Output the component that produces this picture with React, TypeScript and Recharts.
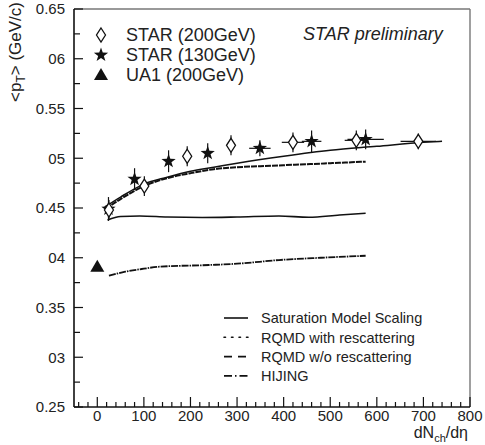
import {
  ComposedChart,
  Line,
  Scatter,
  XAxis,
  YAxis,
  ErrorBar,
  ReferenceLine,
} from "recharts";

const FONT = '"Liberation Sans", Arial, Helvetica, sans-serif';
const INK = "#111";

// STAR 200 GeV (open diamonds)
const star200X = [25, 101, 193, 287, 420, 556, 689];
const star200Y = [0.448, 0.472, 0.502, 0.513, 0.516, 0.518, 0.517];
const star200Ex = [0, 0, 0, 0, 24, 25, 38];
const star200Ey = [0.01, 0.01, 0.01, 0.01, 0.01, 0.01, 0.008];

// STAR 130 GeV (filled stars)
const star130X = [24, 80, 153, 237, 349, 460, 576];
const star130Y = [0.449, 0.479, 0.497, 0.505, 0.51, 0.517, 0.519];
const star130Ex = [0, 0, 0, 0, 23, 21, 39];
const star130Ey = [0.012, 0.011, 0.011, 0.01, 0.008, 0.011, 0.01];

// UA1 200 GeV (filled triangle)
const ua1X = [0];
const ua1Y = [0.391];

// model curves
const satX = [16, 50, 100, 150, 200, 250, 300, 400, 500, 600, 700, 740];
const satY = [0.451, 0.461, 0.474, 0.481, 0.487, 0.491, 0.495, 0.502, 0.508, 0.512, 0.516, 0.517];

const rqmdWithX = [18, 50, 100, 150, 200, 250, 300, 350, 400, 450, 500, 576];
const rqmdWithY = [0.449, 0.459, 0.472, 0.48, 0.485, 0.489, 0.491, 0.492, 0.493, 0.494, 0.495, 0.4966];

const rqmdWithoutX = [22, 50, 91, 150, 225, 300, 390, 454, 520, 576];
const rqmdWithoutY = [0.438, 0.4415, 0.442, 0.441, 0.4405, 0.441, 0.442, 0.4407, 0.443, 0.4447];

const hijingX = [25, 60, 100, 133, 240, 300, 390, 480, 576];
const hijingY = [0.382, 0.386, 0.389, 0.391, 0.3927, 0.394, 0.3977, 0.4, 0.402];

// axes
const xMajor = [0, 100, 200, 300, 400, 500, 600, 700, 800];
const yMajor = [0.25, 0.3, 0.35, 0.4, 0.45, 0.5, 0.55, 0.6, 0.65];
const yLabels = ["0.25", "03", "0.35", "04", "0.45", "05", "0.55", "06", "0.65"];

const xTicks: number[] = [-40, -20];
xMajor.forEach((v, i) => {
  xTicks.push(v);
  if (i < xMajor.length - 1) for (let k = 1; k < 5; k++) xTicks.push(v + k * 20);
});
const yTicks: number[] = [];
yMajor.forEach((v, i) => {
  yTicks.push(v);
  if (i < yMajor.length - 1) yTicks.push(+(v + 0.025).toFixed(3));
});

const pts = (xs: number[], ys: number[], ex?: number[], ey?: number[]) =>
  xs.map((x, i) => ({ x, y: ys[i], ex: ex ? ex[i] : 0, ey: ey ? ey[i] : 0 }));

function starPath(cx: number, cy: number, R: number, r: number) {
  let d = "";
  for (let i = 0; i < 10; i++) {
    const rad = i % 2 === 0 ? R : r;
    const a = -Math.PI / 2 + (i * Math.PI) / 5;
    d += (i ? "L" : "M") + (cx + rad * Math.cos(a)).toFixed(2) + "," + (cy + rad * Math.sin(a)).toFixed(2);
  }
  return d + "Z";
}

const Diamond = ({ cx, cy }: any) => (
  <path
    d={`M${cx},${cy - 7}L${cx + 4.5},${cy}L${cx},${cy + 7}L${cx - 4.5},${cy}Z`}
    fill="#fff"
    stroke={INK}
    strokeWidth={1.3}
  />
);
const Star = ({ cx, cy }: any) => <path d={starPath(cx, cy, 7.5, 3)} fill={INK} />;
const Triangle = ({ cx, cy }: any) => (
  <path d={`M${cx},${cy - 7}L${cx + 7},${cy + 5}L${cx - 7},${cy + 5}Z`} fill={INK} />
);

function XTick({ x, y, payload }: any) {
  const v = payload.value;
  const major = Math.round(v) % 100 === 0;
  return (
    <g>
      <line x1={x} x2={x} y1={y} y2={y - (major ? 10 : 5)} stroke={INK} strokeWidth={1.2} />
      {major && (
        <text x={x} y={y + 14} textAnchor="middle" fontSize={15} fontFamily={FONT} fill="#222">
          {v}
        </text>
      )}
    </g>
  );
}

function YTick({ x, y, payload }: any) {
  const v = payload.value;
  const idx = yMajor.findIndex((m) => Math.abs(m - v) < 1e-6);
  const major = idx >= 0;
  return (
    <g>
      <line x1={x} x2={x + (major ? 9 : 6)} y1={y} y2={y} stroke={INK} strokeWidth={1.2} />
      {major && (
        <text x={x - 9} y={y} dy="0.36em" textAnchor="end" fontSize={15} fontFamily={FONT} fill="#222">
          {yLabels[idx]}
        </text>
      )}
    </g>
  );
}

function Overlay() {
  const legendRows = [
    { label: "Saturation Model Scaling", dash: undefined },
    { label: "RQMD with rescattering", dash: "1.5 6" },
    { label: "RQMD w/o rescattering", dash: "8 6" },
    { label: "HIJING", dash: "8 3 1.5 3" },
  ];
  return (
    <svg
      width={485}
      height={445}
      style={{ position: "absolute", left: 0, top: 0, pointerEvents: "none" }}
      fontFamily={FONT}
    >
      {/* y title */}
      <text transform="translate(21,52) rotate(-90)" textAnchor="middle" fontSize={17} fill="#222">
        {"<p"}
        <tspan fontSize={12} dy={4}>T</tspan>
        <tspan dy={-4}>{"> (GeV/c)"}</tspan>
      </text>
      {/* x title */}
      <text x={468} y={438} textAnchor="end" fontSize={16} fill="#222">
        dN
        <tspan fontSize={11} dy={4}>ch</tspan>
        <tspan dy={-4}>/dη</tspan>
      </text>
      <text x={303} y={40} fontSize={18} fontStyle="italic" fill="#222">
        STAR preliminary
      </text>

      {/* data legend */}
      <Diamond cx={101} cy={35} />
      <Star cx={101} cy={55} />
      <Triangle cx={101} cy={75} />
      {["STAR (200GeV)", "STAR (130GeV)", "UA1 (200GeV)"].map((t, i) => (
        <text key={t} x={126} y={35 + i * 20} dy="0.36em" fontSize={18} fill="#222">
          {t}
        </text>
      ))}

      {/* model legend */}
      {legendRows.map((r, i) => (
        <g key={r.label}>
          <line
            x1={224}
            x2={248}
            y1={318 + i * 19.3}
            y2={318 + i * 19.3}
            stroke={INK}
            strokeWidth={1.6}
            strokeDasharray={r.dash}
            strokeLinecap={r.dash === "1.5 6" ? "round" : "butt"}
          />
          <text x={261} y={318 + i * 19.3} dy="0.36em" fontSize={14.5} fill="#222">
            {r.label}
          </text>
        </g>
      ))}
    </svg>
  );
}

export default function App() {
  return (
    <div style={{ position: "relative", width: 485, height: 445, background: "#fff" }}>
      <style>{"body{margin:0}"}</style>
      <ComposedChart width={485} height={445} margin={{ top: 9, right: 15, bottom: 0, left: 0 }}>
        <XAxis
          type="number"
          dataKey="x"
          domain={[-50, 800]}
          ticks={xTicks}
          interval={0}
          allowDataOverflow
          height={38}
          axisLine={{ stroke: INK, strokeWidth: 1.6 }}
          tickLine={false}
          tickSize={0}
          tickMargin={0}
          tick={XTick}
        />
        <YAxis
          type="number"
          dataKey="y"
          domain={[0.25, 0.65]}
          ticks={yTicks}
          interval={0}
          allowDataOverflow
          width={74}
          axisLine={{ stroke: INK, strokeWidth: 1.6 }}
          tickLine={false}
          tickSize={0}
          tickMargin={0}
          tick={YTick}
        />
        <ReferenceLine y={0.65} stroke="#777" strokeWidth={1.4} ifOverflow="visible" />
        <ReferenceLine x={800} stroke="#777" strokeWidth={1.4} ifOverflow="visible" />

        <Line data={pts(hijingX, hijingY)} dataKey="y" type="monotone" stroke={INK} strokeWidth={1.8}
          strokeDasharray="7 1 1.5 1" dot={false} activeDot={false} isAnimationActive={false} />
        <Line data={pts(rqmdWithoutX, rqmdWithoutY)} dataKey="y" type="monotone" stroke={INK} strokeWidth={1.6}
          dot={false} activeDot={false} isAnimationActive={false} />
        <Line data={pts(rqmdWithX, rqmdWithY)} dataKey="y" type="monotone" stroke={INK} strokeWidth={2}
          strokeDasharray="6 1" dot={false} activeDot={false} isAnimationActive={false} />
        <Line data={pts(satX, satY)} dataKey="y" type="monotone" stroke={INK} strokeWidth={1.5}
          dot={false} activeDot={false} isAnimationActive={false} />

        <Scatter data={pts(star130X, star130Y, star130Ex, star130Ey)} dataKey="y" shape={Star} isAnimationActive={false}>
          <ErrorBar dataKey="ey" direction="y" width={0} stroke={INK} strokeWidth={1.2} isAnimationActive={false} />
          <ErrorBar dataKey="ex" direction="x" width={0} stroke={INK} strokeWidth={1.2} isAnimationActive={false} />
        </Scatter>
        <Scatter data={pts(star200X, star200Y, star200Ex, star200Ey)} dataKey="y" shape={Diamond} isAnimationActive={false}>
          <ErrorBar dataKey="ey" direction="y" width={0} stroke={INK} strokeWidth={1.2} isAnimationActive={false} />
          <ErrorBar dataKey="ex" direction="x" width={0} stroke={INK} strokeWidth={1.2} isAnimationActive={false} />
        </Scatter>
        <Scatter data={pts(ua1X, ua1Y)} dataKey="y" shape={Triangle} isAnimationActive={false} />
      </ComposedChart>
      <Overlay />
    </div>
  );
}
